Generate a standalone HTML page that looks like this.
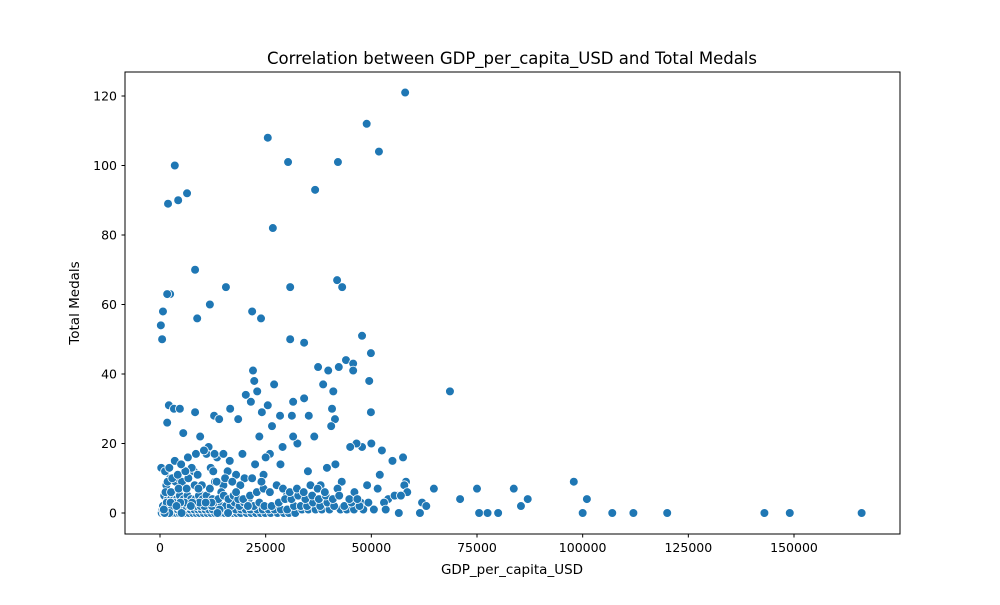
<!DOCTYPE html>
<html><head><meta charset="utf-8"><style>
body{margin:0;background:#fff;}
svg text{font-family:"DejaVu Sans","Liberation Sans",sans-serif;fill:#000;}
</style></head><body>
<svg id="chart" width="1000" height="600" xmlns="http://www.w3.org/2000/svg">
<rect width="1000" height="600" fill="#fff"/>
<text x="512" y="64" font-size="16.5" text-anchor="middle">Correlation between GDP_per_capita_USD and Total Medals</text>
<text x="512" y="574" font-size="13.5" text-anchor="middle">GDP_per_capita_USD</text>
<text x="0" y="0" font-size="13.5" text-anchor="middle" transform="translate(79,303) rotate(-90)">Total Medals</text>
<g id="xticks"></g>
<g id="yticks"></g>
<g id="points"></g>
<rect x="125" y="72" width="775" height="462" fill="none" stroke="#000" stroke-width="1"/>
</svg>
<script>
const xTicks=[0,25000,50000,75000,100000,125000,150000];
const yTicks=[0,20,40,60,80,100,120];
// GDP per capita in thousands USD
const gdpK=[58,48.9,51.8,25.5,30.3,42.1,3.5,6.4,4.3,1.9,36.7,26.7,8.3,41.9,43.1,15.6,30.8,2.4,1.7,11.8,0.7,21.8,8.8,23.9,0.2,0.5,30.8,34.1,68.6,47.8,49.9,44,37.4,45.7,45.7,42.3,39.8,22,38.6,27,22.3,49.5,41,23,20.3,34.1,31.5,21.5,25.5,2.1,3.3,4.7,16.6,40.7,49.9,8.3,24.1,12.8,14,18.5,35.2,28.4,31.2,41.4,1.7,26.5,40.5,
47.8,46.5,52.5,55,45,50,57.5,58.2,57.8,56,54,53,64.8,71,75,83.7,87,85.4,75.5,77.5,80,100,107,112,120,143,149,166,97.9,101,62,61.5,63,58.5,55.5,56.5,57,52,51.5,49,47.5,46,44.5,43,42,41.5,39.5,38.5,38,36.5,35,33,32.5,31.5,30,29,28.5,27.5,26,25,24.5,23.5,22.5,21,20,19.5,18,17.5,16.5,16,15,14.5,13.5,13,12,11.5,11,10,9.5,9,8,7.5,7,6,5.5,5,4.5,4,3.8,3,2.5,2.2,1.8,1.5,1.2,1,0.8,0.5,0.3,
0.4,0.9,1.3,2,2.7,3.2,3.9,4.6,5.3,6.1,6.9,7.8,8.6,9.4,10.3,11.2,12.1,13,14.2,15.3,16.4,17.3,18.2,19.1,20.5,21.6,22.7,23.8,24.9,26.2,27.8,29.3,30.5,32,33.6,35.1,36.8,38.3,40.1,42.7,44.2,45.9,48.1,50.6,53.4,
0.6,1.1,1.6,2.3,2.9,3.6,4.2,4.9,5.7,6.4,7.2,8.1,9,9.8,10.7,11.6,12.5,13.7,14.8,15.8,16.9,17.9,19.2,20.3,21.4,23,24.3,25.7,27.1,28.6,30.1,31.7,33.3,34.8,36.2,37.9,39.6,41.2,43.6,45.3,47.2,49.3,
0.7,1.4,2.1,2.8,3.4,4.1,4.8,5.5,6.2,7,7.9,8.7,9.6,10.5,11.4,12.3,13.3,14.5,15.6,16.7,17.7,18.8,19.9,21.1,22.2,23.5,24.7,26.4,28.1,29.6,31.1,32.7,34.4,36,37.6,39.2,40.9,42.4,44.8,46.7,
1,1.9,2.6,3.3,4,4.7,5.6,6.5,7.4,8.4,9.2,10.1,11,12.4,13.8,15.1,16.2,17.4,18.5,19.7,21.3,22.9,24.5,26,27.6,29.1,30.7,32.4,34,35.6,37.3,39,1.5,2.4,3.1,3.7,4.4,5.2,6.7,8.2,9.9,11.8,13.4,15.4,17.1,19,21.8,24,1.8,2.9,4.2,6,8.9,12.6,
0.3,1.2,2.2,3.5,5,6.6,8.5,10.4,12.9,15,18,1.3,2.6,4.4,6.3,9.1,12.2,3.2,5.8,9.3,1.6,4.8,7.6,2.5,10.8,14.1,20.8,3.9,7.3,2.2,5.1,1.1,0.9,13.6,16.1,19.4,22.4,25.9,28.8,32.3,35.9,38.7,41.8,44.6,1.4,2.7,5.9,8.8,0.6,3.6,6.8,2.8,18.9,26.8];
const medals=[121,112,104,108,101,101,100,92,90,89,93,82,70,67,65,65,65,63,63,60,58,58,56,56,54,50,50,49,35,51,46,44,42,43,41,42,41,41,37,37,38,38,35,35,34,33,32,32,31,31,30,30,30,30,29,29,29,28,27,27,28,28,28,27,26,25,25,
19,20,18,15,19,20,16,9,8,5,4,3,7,4,7,7,4,2,0,0,0,0,0,0,0,0,0,0,9,4,3,0,2,6,5,0,5,11,7,8,3,6,1,9,7,14,13,2,8,22,12,6,20,22,5,19,14,2,17,16,11,22,14,4,10,17,11,1,15,12,8,6,16,9,13,19,17,5,22,11,12,13,4,7,23,8,3,0,
0,0,0,0,0,0,0,0,0,0,0,0,0,0,0,0,0,0,0,0,0,0,0,0,0,0,0,0,0,0,0,0,0,0,0,0,0,0,0,0,0,0,0,0,0,
1,1,1,1,1,1,1,1,1,1,1,1,1,1,1,1,1,1,1,1,1,1,1,1,1,1,1,1,1,1,1,1,1,1,1,1,1,1,1,1,1,1,
2,2,2,3,2,3,2,2,3,2,3,2,2,3,2,3,2,2,3,2,2,3,2,2,2,3,2,3,2,2,2,3,2,3,2,2,3,2,2,3,
4,4,5,4,5,4,5,4,5,4,4,5,4,4,5,4,5,4,5,4,4,5,4,5,4,4,5,4,5,4,4,5,6,7,6,8,7,6,7,6,8,7,6,8,10,10,9,10,9,10,
8,8,7,9,10,9,8,10,9,9,10,11,12,11,12,13,12,13,15,14,16,17,18,17,17,6,6,6,7,7,7,3,3,3,3,3,3,3,3,3,1,2,2,2,0,0,0,1,0,0];
const X=v=>160+v*0.0042267, Y=v=>513-v*3.475;
const ns="http://www.w3.org/2000/svg";
const xg=document.getElementById('xticks'), yg=document.getElementById('yticks'), pg=document.getElementById('points');
xTicks.forEach(t=>{const x=X(t);
 const l=document.createElementNS(ns,'line');l.setAttribute('x1',x);l.setAttribute('x2',x);l.setAttribute('y1',534);l.setAttribute('y2',537.5);l.setAttribute('stroke','#000');
 
 xg.appendChild(l);
 const tx=document.createElementNS(ns,'text');tx.setAttribute('x',x);tx.setAttribute('y',552);tx.setAttribute('font-size','12.5');tx.setAttribute('text-anchor','middle');tx.textContent=t;
 
 xg.appendChild(tx);});
yTicks.forEach(t=>{const y=Y(t);
 const l=document.createElementNS(ns,'line');l.setAttribute('x1',121.5);l.setAttribute('x2',125);l.setAttribute('y1',y);l.setAttribute('y2',y);l.setAttribute('stroke','#000');
 
 yg.appendChild(l);
 const tx=document.createElementNS(ns,'text');tx.setAttribute('x',117);tx.setAttribute('y',y+4.5);tx.setAttribute('font-size','12.5');tx.setAttribute('text-anchor','end');tx.textContent=t;
 
 yg.appendChild(tx);});
const n=Math.min(gdpK.length,medals.length);
for(let i=0;i<n;i++){const c=document.createElementNS(ns,'circle');
 c.setAttribute('cx',X(gdpK[i]*1000));c.setAttribute('cy',Y(medals[i]));c.setAttribute('r',4.4);
 c.setAttribute('fill','#1f77b4');c.setAttribute('stroke','#fff');c.setAttribute('stroke-width','0.8');
 
 pg.appendChild(c);}
</script>
</body></html>
